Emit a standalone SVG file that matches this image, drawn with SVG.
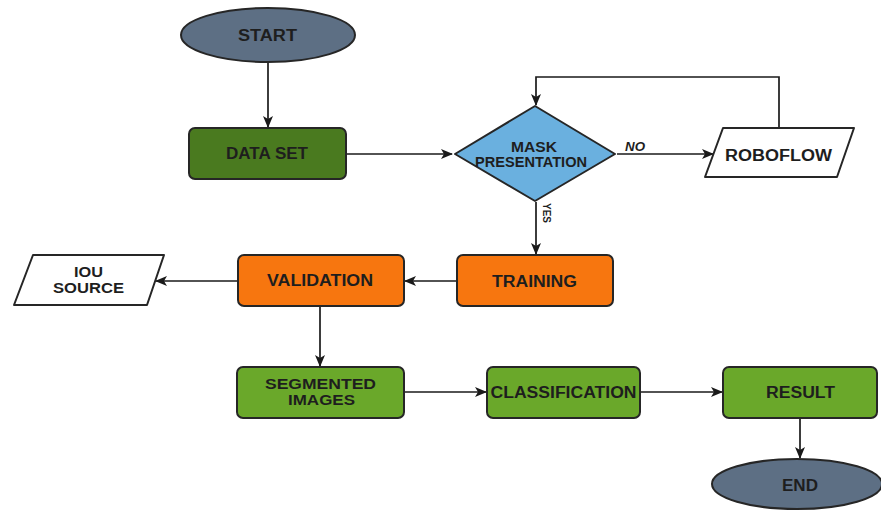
<svg xmlns="http://www.w3.org/2000/svg" width="881" height="510" viewBox="0 0 881 510">
<style>
  .lbl{font-family:"Liberation Sans",Arial,sans-serif;font-weight:bold;font-size:16px;fill:#1e1e1e;text-anchor:middle}
  .sm{font-size:14px}
  .edge{stroke:#1a1a1a;stroke-width:1.7;fill:none}
  .box{stroke:#262626;stroke-width:2}
  .term{fill:#5d6f84}
  .dg{fill:#4a7a1f}
  .lg{fill:#6aa82a}
  .or{fill:#f7760f}
</style>
<defs>
  <marker id="ah" viewBox="0 0 12 10" refX="11" refY="5" markerWidth="12" markerHeight="10" markerUnits="userSpaceOnUse" orient="auto">
    <path d="M0,0 L12,5 L0,10 L3,5 z" fill="#1a1a1a"/>
  </marker>
</defs>
<rect width="881" height="510" fill="#ffffff"/>
<g id="connectors">
  <path class="edge" d="M268,62 V127" marker-end="url(#ah)"/>
  <path class="edge" d="M346,154 H452" marker-end="url(#ah)"/>
  <path class="edge" d="M617,154 H713" marker-end="url(#ah)"/>
  <path class="edge" d="M779,128 V77 H536 V105" marker-end="url(#ah)"/>
  <path class="edge" d="M536,202 V254" marker-end="url(#ah)"/>
  <path class="edge" d="M457,281 H405" marker-end="url(#ah)"/>
  <path class="edge" d="M238,281 H156" marker-end="url(#ah)"/>
  <path class="edge" d="M320,306 V366" marker-end="url(#ah)"/>
  <path class="edge" d="M404,392 H486" marker-end="url(#ah)"/>
  <path class="edge" d="M640,392 H722" marker-end="url(#ah)"/>
  <path class="edge" d="M800,418 V458" marker-end="url(#ah)"/>
  <text class="lbl" x="635" y="151" style="font-size:12px;font-style:italic" textLength="20" lengthAdjust="spacingAndGlyphs">NO</text>
  <text class="lbl" x="0" y="0" style="font-size:11px" transform="translate(543,213) rotate(90)" textLength="20" lengthAdjust="spacingAndGlyphs">YES</text>
</g>
<g id="start">
  <ellipse class="box term" cx="268" cy="35" rx="87" ry="27"/>
  <text class="lbl" x="267.5" y="41" textLength="59" lengthAdjust="spacingAndGlyphs">START</text>
</g>
<g id="dataset">
  <rect class="box dg" x="189" y="128" width="157" height="51" rx="6"/>
  <text class="lbl" x="267" y="159" textLength="82" lengthAdjust="spacingAndGlyphs">DATA SET</text>
</g>
<g id="mask">
  <path class="box" fill="#6ab0df" stroke-linejoin="round" d="M455,154 L535,106 L615,154 L535,201 Z"/>
  <text class="lbl sm" x="534" y="152" textLength="46" lengthAdjust="spacingAndGlyphs">MASK</text>
  <text class="lbl sm" x="531" y="167" textLength="112" lengthAdjust="spacingAndGlyphs">PRESENTATION</text>
</g>
<g id="roboflow">
  <path class="box" fill="#ffffff" stroke-linejoin="round" d="M723,128 H854 L837,177 H705 Z"/>
  <text class="lbl" x="778.5" y="161" textLength="107" lengthAdjust="spacingAndGlyphs">ROBOFLOW</text>
</g>
<g id="training">
  <rect class="box or" x="457" y="255" width="156" height="51" rx="6"/>
  <text class="lbl" x="534.5" y="287" textLength="85" lengthAdjust="spacingAndGlyphs">TRAINING</text>
</g>
<g id="validation">
  <rect class="box or" x="238" y="255" width="166" height="51" rx="6"/>
  <text class="lbl" x="320" y="286" textLength="106" lengthAdjust="spacingAndGlyphs">VALIDATION</text>
</g>
<g id="iou">
  <path class="box" fill="#ffffff" stroke-linejoin="round" d="M33,255 H164 L147,305 H14 Z"/>
  <text class="lbl sm" x="88.5" y="277" textLength="29" lengthAdjust="spacingAndGlyphs">IOU</text>
  <text class="lbl sm" x="88.5" y="293" textLength="71" lengthAdjust="spacingAndGlyphs">SOURCE</text>
</g>
<g id="segmented">
  <rect class="box lg" x="237" y="367" width="167" height="51" rx="6"/>
  <text class="lbl sm" x="320.5" y="389" textLength="111" lengthAdjust="spacingAndGlyphs">SEGMENTED</text>
  <text class="lbl sm" x="321.5" y="405" textLength="67" lengthAdjust="spacingAndGlyphs">IMAGES</text>
</g>
<g id="classification">
  <rect class="box lg" x="487" y="367" width="153" height="51" rx="6"/>
  <text class="lbl" x="563.5" y="398" textLength="146" lengthAdjust="spacingAndGlyphs">CLASSIFICATION</text>
</g>
<g id="result">
  <rect class="box lg" x="723" y="367" width="154" height="51" rx="6"/>
  <text class="lbl" x="800.5" y="398" textLength="69" lengthAdjust="spacingAndGlyphs">RESULT</text>
</g>
<g id="end">
  <ellipse class="box term" cx="797" cy="484" rx="85" ry="25"/>
  <text class="lbl" x="800" y="491" textLength="36" lengthAdjust="spacingAndGlyphs">END</text>
</g>
</svg>
